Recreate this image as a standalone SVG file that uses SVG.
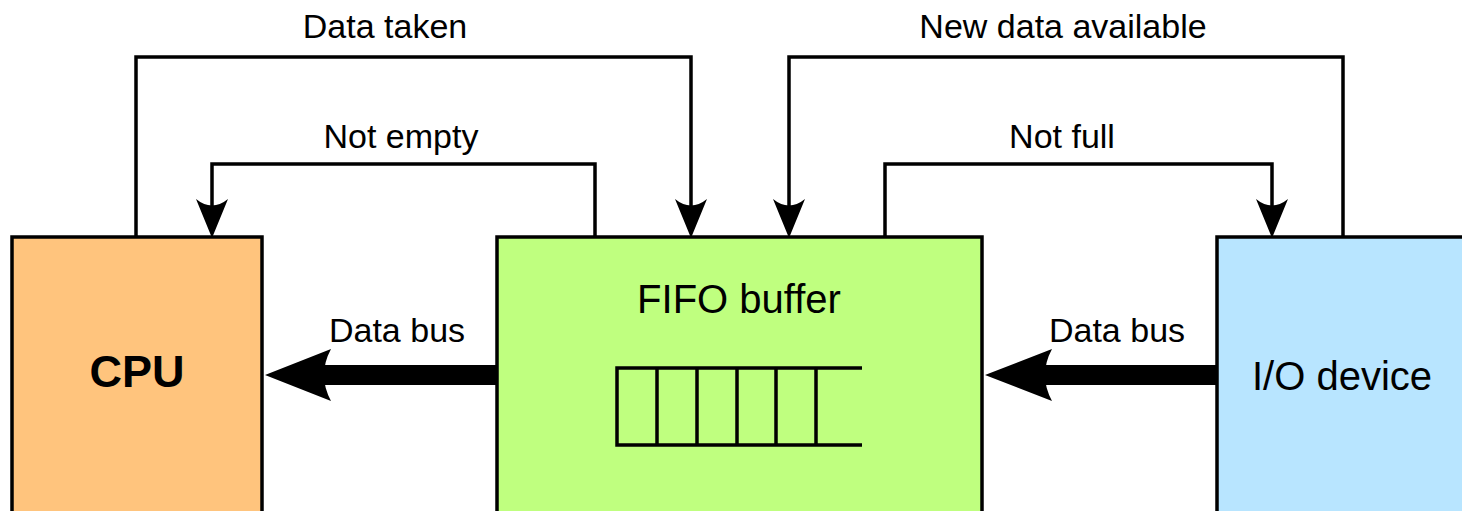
<svg xmlns="http://www.w3.org/2000/svg" xmlns:xlink="http://www.w3.org/1999/xlink" width="1462" height="511" viewBox="0 0 1462 511">
<defs>
<style>
.box{stroke:#000;stroke-width:3.5}
.ln{fill:none;stroke:#000;stroke-width:3.5}
.lbl{font-family:"Liberation Sans",Arial,sans-serif;font-size:34px;fill:#000;text-anchor:middle}
.big{font-family:"Liberation Sans",Arial,sans-serif;font-size:40px;fill:#000;text-anchor:middle}
</style>
<path id="ah" d="M0,0 L-16,-39 Q0,-26 16,-39 Z" fill="#000"/>
</defs>
<rect width="1462" height="511" fill="#fff"/>
<g id="cpu">
<rect class="box" x="12" y="237" width="250" height="290" fill="#FFC47D"/>
<text x="137" y="387" style="font-family:'Liberation Sans',Arial,sans-serif;font-size:45px;font-weight:bold;text-anchor:middle">CPU</text>
</g>
<g id="fifo">
<rect class="box" x="497" y="237" width="485" height="290" fill="#BFFF7F"/>
<text class="big" x="739" y="313">FIFO buffer</text>
<path class="ln" d="M862,368 H617 V445 H862 M657,368 V445 M697,368 V445 M737,368 V445 M776,368 V445 M816,368 V445"/>
</g>
<g id="io">
<rect class="box" x="1217" y="237" width="260" height="290" fill="#B8E5FF"/>
<text class="big" x="1342" y="390">I/O device</text>
</g>
<g id="connectors">
<path class="ln" d="M136,237 V57 H691 V215"/>
<use xlink:href="#ah" transform="translate(691,238)"/>
<path class="ln" d="M595,237 V164 H212 V215"/>
<use xlink:href="#ah" transform="translate(212,238)"/>
<path class="ln" d="M1343,237 V57 H789 V215"/>
<use xlink:href="#ah" transform="translate(789,238)"/>
<path class="ln" d="M885,237 V164 H1272 V215"/>
<use xlink:href="#ah" transform="translate(1272,238)"/>
<rect x="320" y="365" width="177" height="20" fill="#000"/>
<path d="M265,375 L331,349 Q317,375 331,401 Z" fill="#000"/>
<rect x="1040" y="365" width="177" height="20" fill="#000"/>
<path d="M985,375 L1052,349 Q1038,375 1052,401 Z" fill="#000"/>
<text class="lbl" x="385" y="38">Data taken</text>
<text class="lbl" x="401" y="148">Not empty</text>
<text class="lbl" x="1063" y="38">New data available</text>
<text class="lbl" x="1062" y="148">Not full</text>
<text class="lbl" x="397" y="342">Data bus</text>
<text class="lbl" x="1117" y="342">Data bus</text>
</g>
</svg>
